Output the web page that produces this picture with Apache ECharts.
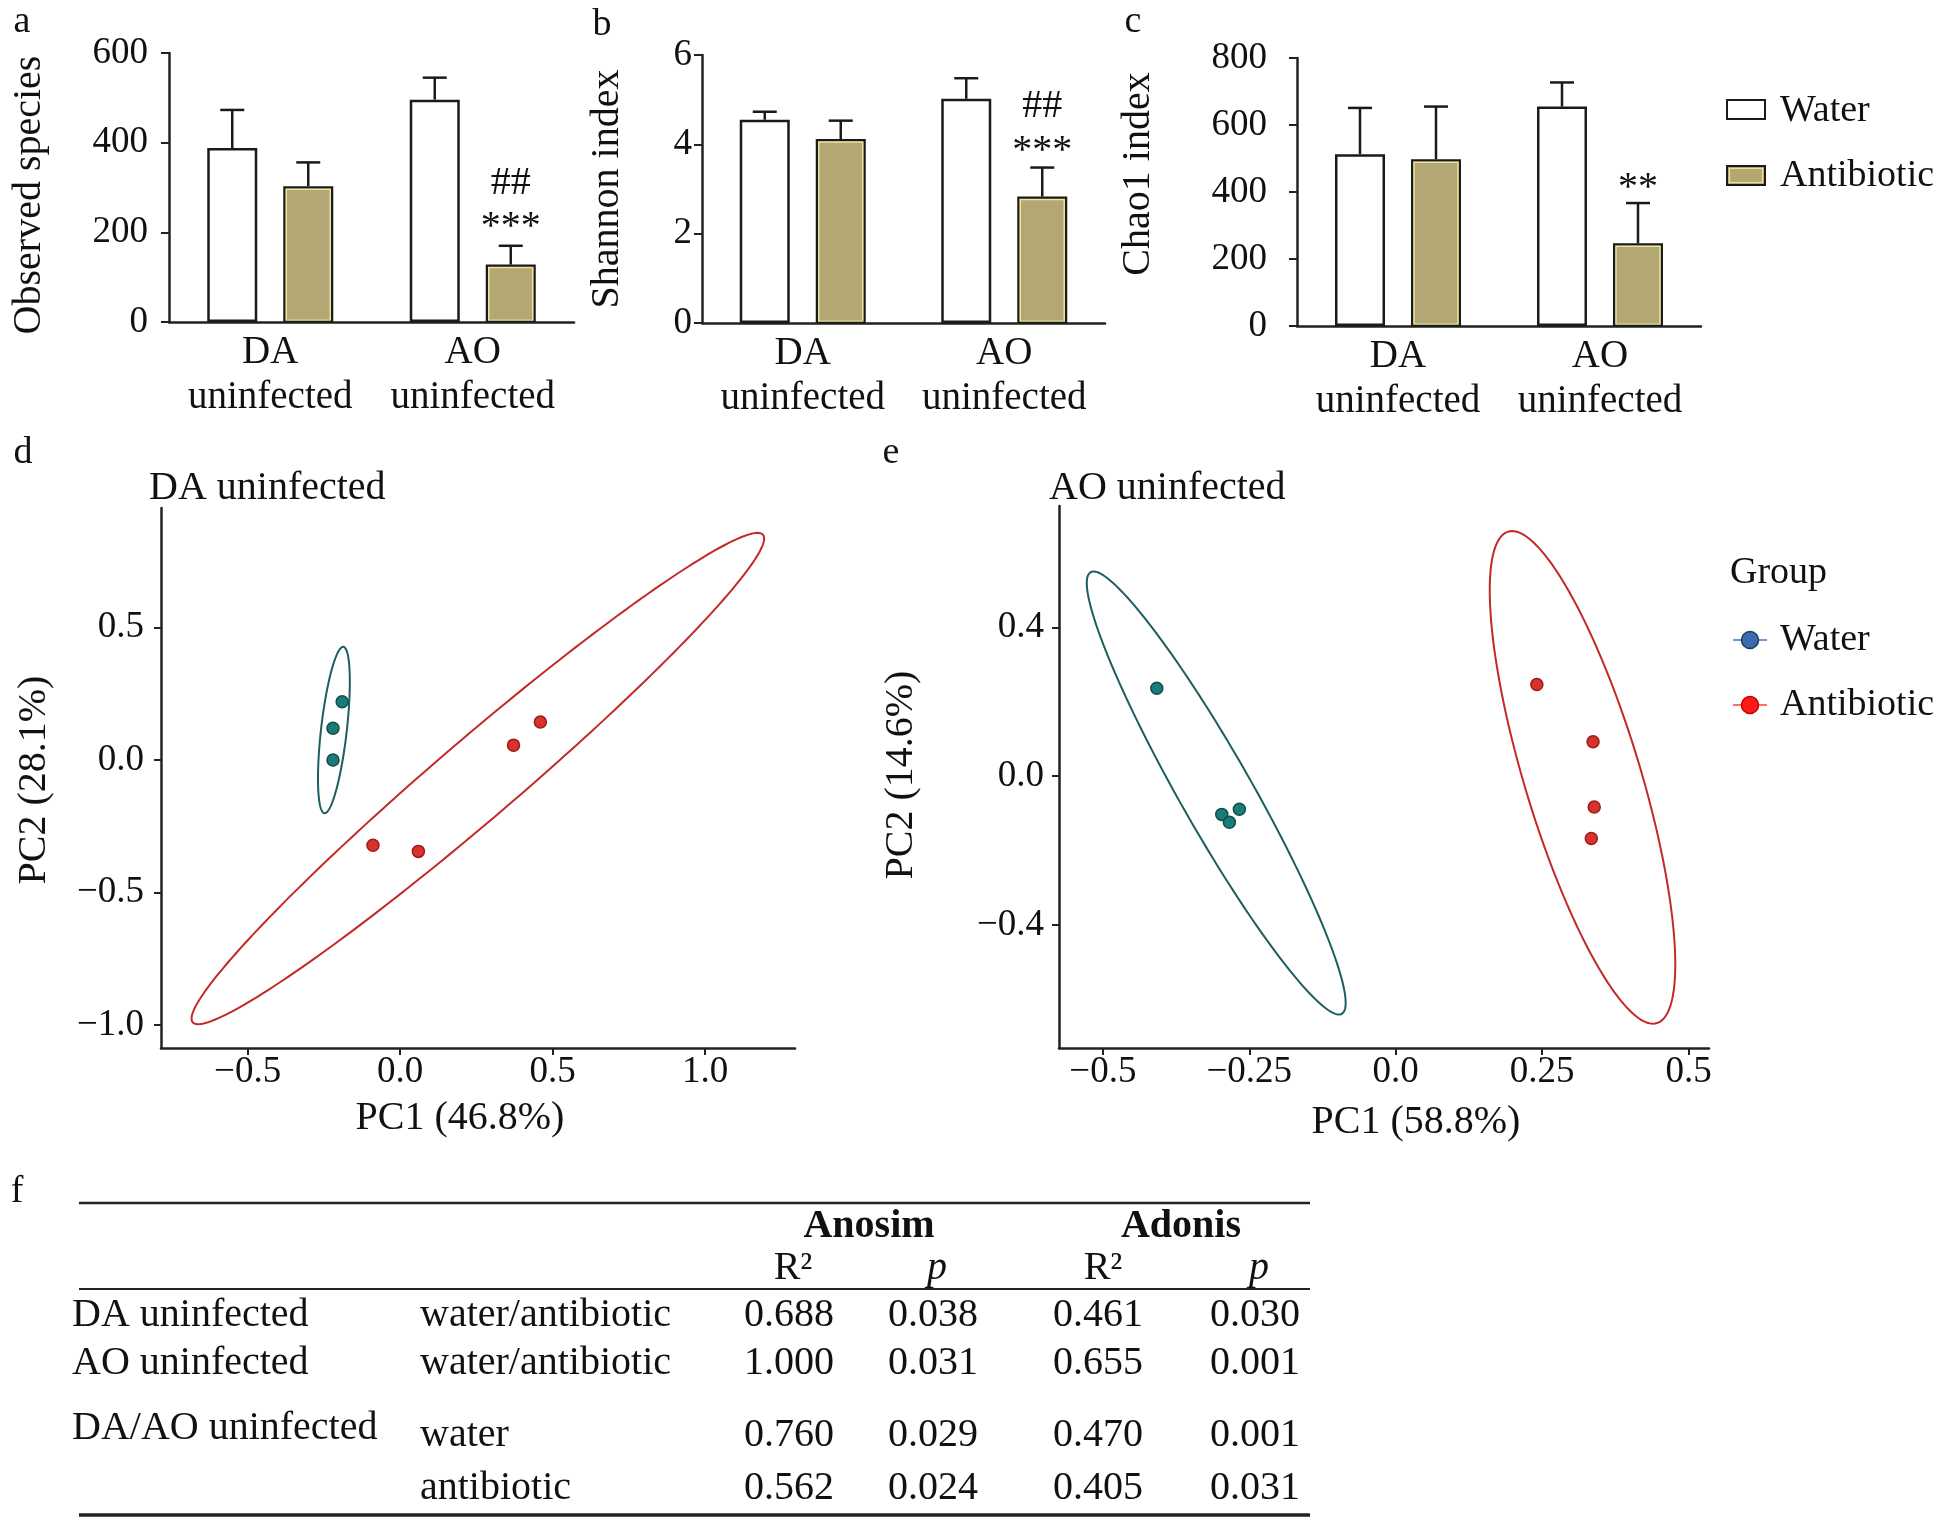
<!DOCTYPE html>
<html>
<head>
<meta charset="UTF-8">
<title>Alpha and beta diversity, uninfected groups</title>
<script src="https://cdn.jsdelivr.net/npm/echarts@6/dist/echarts.min.js"></script>
<style>html, body { margin: 0; padding: 0; background: #fff; }</style>
</head>
<body>
<div id="main" style="width:1957px;height:1532px;"></div>
<script>
var groups = ['DA\nuninfected', 'AO\nuninfected'];

// a - observed species (bar = mean, top = mean + error)
var obsWater = [388, 496];
var obsWaterTop = [473, 545];
var obsAnti = [303, 128];
var obsAntiTop = [356, 170];

// b - Shannon index
var shanWater = [4.55, 5.02];
var shanWaterTop = [4.73, 5.48];
var shanAnti = [4.12, 2.83];
var shanAntiTop = [4.53, 3.48];

// c - Chao1 index
var chaoWater = [513, 655];
var chaoWaterTop = [651, 727];
var chaoAnti = [498, 247];
var chaoAntiTop = [655, 367];

// significance marks over the antibiotic bars: [group, y, text]
var obsMarks = [[1, 309, '##'], [1, 210, '***']];
var shanMarks = [[1, 4.85, '##'], [1, 3.83, '***']];
var chaoMarks = [[1, 410, '**']];

// d / e - PCoA points
var dWater = [[-0.19, 0.22], [-0.22, 0.12], [-0.22, 0.00]];
var dAnti = [[0.46, 0.143], [0.372, 0.056], [-0.089, -0.322], [0.06, -0.345]];
var eWater = [[-0.408, 0.236], [-0.297, -0.103], [-0.267, -0.089], [-0.284, -0.124]];
var eAnti = [[0.241, 0.246], [0.337, 0.092], [0.339, -0.083], [0.334, -0.168]];

// ellipses: centre x,y, end of first semi-axis x,y, end of second semi-axis x,y
var dWaterEllipse = [-0.217, 0.113, -0.186, 0.427, -0.175, 0.108];
var dAntiEllipse = [0.255, -0.07, 1.19, 0.85, 0.17, 0.045];
var eWaterEllipse = [-0.3065, -0.0455, -0.521, 0.548, -0.253, 0.0024];
var eAntiEllipse = [0.319, -0.0035, 0.192, 0.657, 0.4137, 0.0417];

var dXTicks = [-0.5, 0, 0.5, 1.0];
var dYTicks = [-1.0, -0.5, 0, 0.5];
var eXTicks = [-0.5, -0.25, 0, 0.25, 0.5];
var eYTicks = [-0.4, 0, 0.4];

// f - table
var tableHead = ['Anosim', 'Adonis'];
var tableSub = ['R²', 'p', 'R²', 'p'];
var tableRows = [
  ['DA uninfected', 'water/antibiotic', '0.688', '0.038', '0.461', '0.030'],
  ['AO uninfected', 'water/antibiotic', '1.000', '0.031', '0.655', '0.001'],
  ['DA/AO uninfected', 'water', '0.760', '0.029', '0.470', '0.001'],
  ['', 'antibiotic', '0.562', '0.024', '0.405', '0.031']
];

var FONT = '"Liberation Serif", "Times New Roman", serif';
var INK = '#111';
var OLIVE = '#b3a773';
var BAR_W = 50, BAR_GAP = 26;
var SHIFT = (BAR_W + BAR_GAP) / 2;

var chart = echarts.init(document.getElementById('main'));

function tickText(v) {
  var s = Math.abs(v).toFixed(Math.round(v * 100) % 10 === 0 ? 1 : 2);
  return (v < 0 ? '\u2212' : '') + s;
}

function barX(i) {
  return {
    gridIndex: i, type: 'category', data: groups,
    axisLine: { lineStyle: { color: '#222', width: 2.5 } },
    axisTick: { alignWithLabel: true, length: 10, lineStyle: { color: '#222', width: 2 } },
    axisLabel: { interval: 0, margin: 8, fontFamily: FONT, fontSize: 39, lineHeight: 45, color: INK }
  };
}
function barY(i, max, step, margin) {
  return {
    gridIndex: i, type: 'value', min: 0, max: max, interval: step,
    splitLine: { show: false },
    axisLine: { show: true, lineStyle: { color: '#222', width: 2.5 } },
    axisTick: { show: true, length: 8, lineStyle: { color: '#222', width: 2 } },
    axisLabel: { margin: margin, fontFamily: FONT, fontSize: 37, color: INK }
  };
}
function pcAxis(i, min, max, ticks, margin) {
  return {
    gridIndex: i, type: 'value', min: min, max: max,
    splitLine: { show: false },
    axisLine: { show: true, onZero: false, lineStyle: { color: '#222', width: 2.5 } },
    axisTick: { show: true, length: 7, customValues: ticks, lineStyle: { color: '#222', width: 2 } },
    axisLabel: { customValues: ticks, margin: margin, fontFamily: FONT, fontSize: 37, color: INK, formatter: tickText }
  };
}

function barSeries(i, name, values, fill) {
  return {
    type: 'bar', name: name, xAxisIndex: i, yAxisIndex: i, data: values,
    barWidth: BAR_W, barGap: (BAR_GAP / BAR_W * 100) + '%',
    itemStyle: { color: fill, borderColor: '#1a1a1a', borderWidth: 2.5 }
  };
}
// pale inner rim seen on the olive bars
function rimSeries(i, values, shift) {
  return {
    type: 'custom', xAxisIndex: i, yAxisIndex: i, z: 3, silent: true,
    data: values.map(function (v, k) { return [k, v]; }),
    renderItem: function (params, api) {
      var top = api.coord([api.value(0), api.value(1)]);
      var base = api.coord([api.value(0), 0]);
      var x = top[0] + shift - BAR_W / 2 + 3;
      return { type: 'rect', shape: { x: x, y: top[1] + 3, width: BAR_W - 6, height: base[1] - top[1] - 5 },
        style: { fill: 'none', stroke: '#ece39c', lineWidth: 1.5 } };
    }
  };
}
function errorSeries(i, means, tops, shift) {
  return {
    type: 'custom', xAxisIndex: i, yAxisIndex: i, z: 3, silent: true,
    data: means.map(function (m, k) { return [k, m, tops[k]]; }),
    renderItem: function (params, api) {
      var base = api.coord([api.value(0), api.value(1)]);
      var top = api.coord([api.value(0), api.value(2)]);
      var x = base[0] + shift;
      var st = { stroke: '#1a1a1a', lineWidth: 2.5 };
      return { type: 'group', children: [
        { type: 'line', shape: { x1: x, y1: base[1], x2: x, y2: top[1] }, style: st },
        { type: 'line', shape: { x1: x - 12, y1: top[1], x2: x + 12, y2: top[1] }, style: st }
      ] };
    }
  };
}
function markSeries(i, marks) {
  return {
    type: 'custom', xAxisIndex: i, yAxisIndex: i, z: 4, silent: true,
    data: marks.map(function (m) { return [m[0], m[1]]; }),
    renderItem: function (params, api) {
      var p = api.coord([api.value(0), api.value(1)]);
      return { type: 'text', x: p[0] + SHIFT, y: p[1], style: {
        text: marks[params.dataIndex][2], font: '40px ' + FONT, fill: INK,
        align: 'center', verticalAlign: 'middle' } };
    }
  };
}
function ellipseSeries(i, e, color) {
  return {
    type: 'custom', xAxisIndex: i, yAxisIndex: i, z: 1, silent: true,
    data: [e],
    renderItem: function (params, api) {
      var c = api.coord([api.value(0), api.value(1)]);
      var a = api.coord([api.value(2), api.value(3)]);
      var b = api.coord([api.value(4), api.value(5)]);
      var pts = [];
      for (var k = 0; k < 200; k++) {
        var t = k / 200 * Math.PI * 2;
        pts.push([
          c[0] + (a[0] - c[0]) * Math.cos(t) + (b[0] - c[0]) * Math.sin(t),
          c[1] + (a[1] - c[1]) * Math.cos(t) + (b[1] - c[1]) * Math.sin(t)
        ]);
      }
      return { type: 'polygon', shape: { points: pts }, style: { fill: 'none', stroke: color, lineWidth: 2 } };
    }
  };
}
function pointSeries(i, name, pts, fill, edge) {
  return {
    type: 'scatter', name: name, xAxisIndex: i, yAxisIndex: i, data: pts, z: 5,
    symbolSize: 12, itemStyle: { color: fill, borderColor: edge, borderWidth: 1.5, opacity: 1 }
  };
}

// free text (panel letters, axis titles, legends, table)
var g = [];
function txt(x, y, s, o) {
  o = o || {};
  g.push({ type: 'text', x: x, y: y, rotation: o.rot || 0, style: {
    text: s, fill: INK, align: o.align || 'center', verticalAlign: 'middle',
    font: (o.style || '') + ' ' + (o.weight || '') + ' ' + (o.size || 40) + 'px ' + FONT } });
}
function rule(x1, x2, y, w) {
  g.push({ type: 'line', shape: { x1: x1, y1: y, x2: x2, y2: y }, style: { stroke: '#222', lineWidth: w } });
}

[['a', 22, 22], ['b', 602, 25], ['c', 1133, 22], ['d', 23, 453], ['e', 891, 453], ['f', 17, 1192]]
  .forEach(function (l) { txt(l[1], l[2], l[0], { size: 38 }); });

txt(29, 195, 'Observed species', { rot: Math.PI / 2 });
txt(607, 189, 'Shannon index', { rot: Math.PI / 2 });
txt(1138, 174, 'Chao1 index', { rot: Math.PI / 2 });
txt(34, 780, 'PC2 (28.1%)', { rot: Math.PI / 2 });
txt(901, 775, 'PC2 (14.6%)', { rot: Math.PI / 2 });
txt(460, 1118, 'PC1 (46.8%)');
txt(1416, 1122, 'PC1 (58.8%)');
txt(149, 488, 'DA uninfected', { align: 'left' });
txt(1049, 488, 'AO uninfected', { align: 'left' });

// bar legend
g.push({ type: 'rect', shape: { x: 1727, y: 100, width: 38, height: 19 }, style: { fill: '#fff', stroke: '#1a1a1a', lineWidth: 2 } });
g.push({ type: 'rect', shape: { x: 1727, y: 166, width: 38, height: 19 }, style: { fill: OLIVE, stroke: '#1a1a1a', lineWidth: 2 } });
g.push({ type: 'rect', shape: { x: 1729.5, y: 168.5, width: 33, height: 14 }, style: { fill: 'none', stroke: '#ece39c', lineWidth: 1.2 } });
txt(1780, 111, 'Water', { align: 'left', size: 38 });
txt(1780, 176, 'Antibiotic', { align: 'left', size: 38 });

// group legend
txt(1730, 573, 'Group', { align: 'left', size: 38 });
[[640, '#6b9bd1', '#3c6aab', '#1f3d66', 'Water'], [705, '#ff7070', '#ff1a1a', '#c00000', 'Antibiotic']]
  .forEach(function (r) {
    g.push({ type: 'line', shape: { x1: 1733, y1: r[0], x2: 1767, y2: r[0] }, style: { stroke: r[1], lineWidth: 2 } });
    g.push({ type: 'circle', shape: { cx: 1750, cy: r[0], r: 8.5 }, style: { fill: r[2], stroke: r[3], lineWidth: 1.5 } });
    txt(1780, r[0], r[4], { align: 'left', size: 38 });
  });

// table
rule(79, 1310, 1203, 2.5);
rule(79, 1310, 1289, 2);
rule(79, 1310, 1515, 3.5);
txt(869, 1227, tableHead[0], { weight: 'bold', size: 40 });
txt(1181, 1227, tableHead[1], { weight: 'bold', size: 40 });
var subX = [793, 937, 1103, 1259];
tableSub.forEach(function (s, k) { txt(subX[k], 1268, s, { size: 40, style: s === 'p' ? 'italic' : '' }); });
var rowY = [1315, 1363, 1435, 1488];
var valX = [789, 933, 1098, 1255];
tableRows.forEach(function (r, k) {
  txt(72, k === 2 ? 1428 : rowY[k], r[0], { align: 'left', size: 40 });
  txt(420, rowY[k], r[1], { align: 'left', size: 40 });
  for (var c = 2; c < 6; c++) txt(valX[c - 2], rowY[k], r[c], { size: 40 });
});

var option = {
  animation: false,
  backgroundColor: '#fff',
  textStyle: { fontFamily: FONT },
  grid: [
    { left: 169, top: 53, width: 405, height: 269 },
    { left: 702, top: 55, width: 403, height: 268 },
    { left: 1297, top: 58, width: 404, height: 268 },
    { left: 161, top: 508, width: 634, height: 540 },
    { left: 1059, top: 506, width: 650, height: 542 }
  ],
  xAxis: [
    barX(0), barX(1), barX(2),
    pcAxis(3, -0.784, 1.295, dXTicks, 6),
    pcAxis(4, -0.575, 0.535, eXTicks, 6)
  ],
  yAxis: [
    barY(0, 600, 200, 21), barY(1, 6, 2, 10), barY(2, 800, 200, 30),
    pcAxis(3, -1.087, 0.951, dYTicks, 17),
    pcAxis(4, -0.731, 0.726, eYTicks, 15)
  ],
  series: [
    barSeries(0, 'Water', obsWater, '#fff'), barSeries(0, 'Antibiotic', obsAnti, OLIVE),
    rimSeries(0, obsAnti, SHIFT),
    errorSeries(0, obsWater, obsWaterTop, -SHIFT), errorSeries(0, obsAnti, obsAntiTop, SHIFT),
    markSeries(0, obsMarks),
    barSeries(1, 'Water', shanWater, '#fff'), barSeries(1, 'Antibiotic', shanAnti, OLIVE),
    rimSeries(1, shanAnti, SHIFT),
    errorSeries(1, shanWater, shanWaterTop, -SHIFT), errorSeries(1, shanAnti, shanAntiTop, SHIFT),
    markSeries(1, shanMarks),
    barSeries(2, 'Water', chaoWater, '#fff'), barSeries(2, 'Antibiotic', chaoAnti, OLIVE),
    rimSeries(2, chaoAnti, SHIFT),
    errorSeries(2, chaoWater, chaoWaterTop, -SHIFT), errorSeries(2, chaoAnti, chaoAntiTop, SHIFT),
    markSeries(2, chaoMarks),
    ellipseSeries(3, dWaterEllipse, '#1d5f5e'), ellipseSeries(3, dAntiEllipse, '#c22a2a'),
    pointSeries(3, 'Water group', dWater, '#1b7b78', '#0f4f4e'),
    pointSeries(3, 'Antibiotic group', dAnti, '#d8322d', '#9e1b18'),
    ellipseSeries(4, eWaterEllipse, '#1d5f5e'), ellipseSeries(4, eAntiEllipse, '#c22a2a'),
    pointSeries(4, 'Water group', eWater, '#1b7b78', '#0f4f4e'),
    pointSeries(4, 'Antibiotic group', eAnti, '#d8322d', '#9e1b18')
  ],
  graphic: g
};

chart.setOption(option);
</script>
</body>
</html>
